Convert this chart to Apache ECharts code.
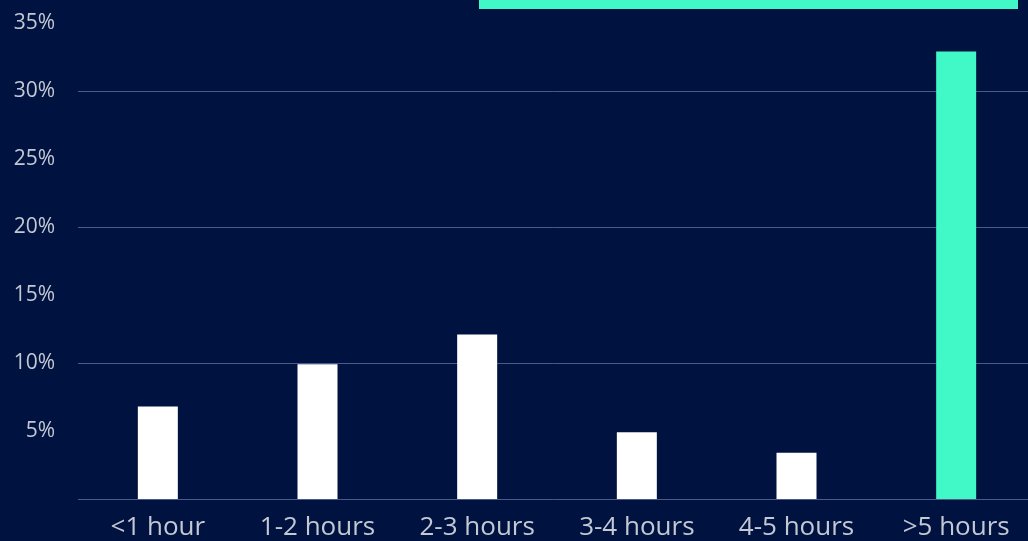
<!DOCTYPE html>
<html>
<head>
<meta charset="utf-8">
<script src="https://cdn.jsdelivr.net/npm/echarts@6/dist/echarts.min.js"></script>
<style>
  html, body { margin: 0; padding: 0; background: #00123f; }
  #chart { width: 1028px; height: 541px; }
</style>
</head>
<body>
<div id="chart"></div>
<script>
// categories + share of respondents (%)
var categories = ['<1 hour', '1-2 hours', '2-3 hours', '3-4 hours', '4-5 hours', '>5 hours']
var shareValues = [6.8, 9.9, 12.1, 4.9, 3.4, 32.9]
var yTicks = [0, 5, 10, 15, 20, 25, 30, 35]

var highlightIndex = 5   // last bar is drawn in teal

var myChart = echarts.init(document.getElementById('chart'))

myChart.setOption({
    backgroundColor: '#00123f',
    textStyle: { fontFamily: 'Open Sans' },
    animation: false,
    grid: {
        left: 78,
        right: -8,
        top: 23,
        bottom: 42,
        outerBoundsMode: 'none'
    },
    xAxis: {
        type: 'category',
        data: categories,
        axisLine: { show: false },
        axisTick: { show: false },
        axisLabel: {
            color: '#c3c8d4',
            fontSize: 26,
            margin: 16
        }
    },
    yAxis: {
        type: 'value',
        min: yTicks[0],
        max: yTicks[yTicks.length - 1],
        interval: 5,
        axisLine: { show: false },
        axisTick: { show: false },
        axisLabel: {
            color: '#c3c8d4',
            fontSize: 21,
            margin: 23,
            formatter: function (v) {
                return v === 0 ? '' : v + '%'
            }
        },
        splitLine: {
            show: true,
            lineStyle: {
                // only every other tick gets a visible line (0,10,20,30)
                color: ['#4b5a86', 'rgba(0,0,0,0)'],
                width: 1
            }
        }
    },
    graphic: [{
        type: 'rect',
        left: 479,
        top: 0,
        shape: { width: 539, height: 9 },
        style: { fill: '#40f9c6' }
    }],
    series: [{
        type: 'bar',
        data: shareValues.map(function (v, i) {
            return {
                value: v,
                itemStyle: { color: i === highlightIndex ? '#40f9c6' : '#ffffff' }
            }
        }),
        barWidth: 40
    }]
})
</script>
</body>
</html>
